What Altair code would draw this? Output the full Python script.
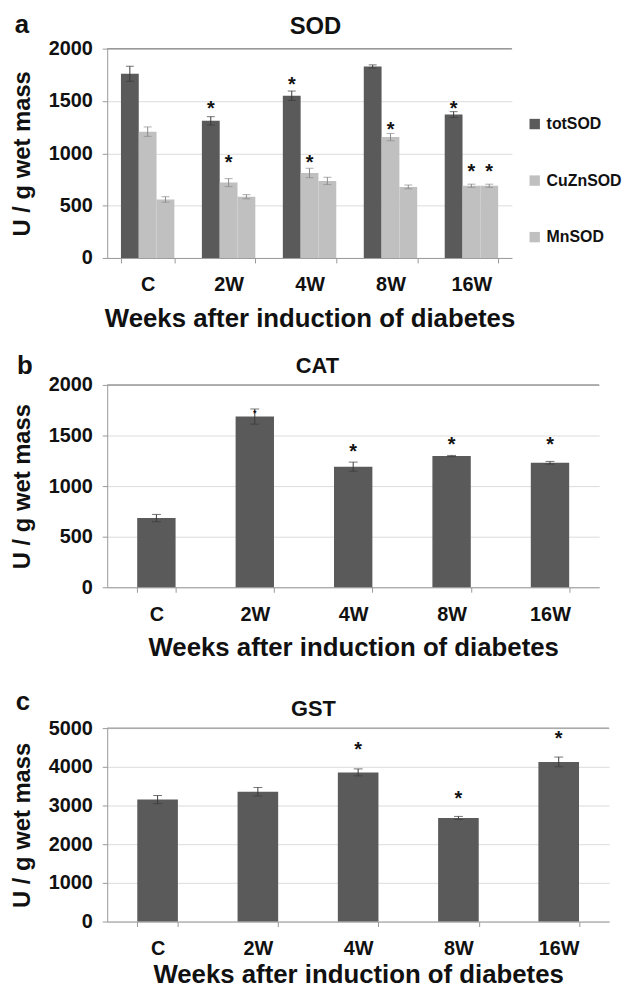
import altair as alt
import pandas as pd

FONT = "Liberation Sans"
DARK = "#5a5a5a"
LIGHT = "#c0c0c0"
XTITLE = "Weeks after induction of diabetes"
YTITLE = "U / g wet mass"

weeks = ["C", "2W", "4W", "8W", "16W"]

# Panel a: SOD
sod_series = ["totSOD", "CuZnSOD", "MnSOD"]
tot_sod = [1760, 1310, 1550, 1830, 1370]
tot_sod_err = [72, 40, 45, 15, 28]
cuzn_sod = [1207, 720, 812, 1155, 690]
cuzn_sod_err = [45, 38, 45, 35, 15]
mn_sod = [559, 585, 736, 679, 690]
mn_sod_err = [26, 20, 35, 18, 15]
tot_sod_star = [None, 1475, 1695, None, 1470]
cuzn_sod_star = [None, 955, 955, 1265, 870]
mn_sod_star = [None, None, None, None, 870]

# Panel b: CAT
cat = [684, 1687, 1192, 1297, 1231]
cat_err = [36, 75, 45, 6, 13]
cat_star = [None, 1800, 1384, 1456, 1456]
cat_star_size = [0, 9, 20, 20, 20]

# Panel c: GST
gst = [3153, 3356, 3856, 2678, 4127]
gst_err = [105, 110, 90, 40, 125]
gst_star = [None, None, 4560, 3305, 4856]

# ---------- data frames ----------
rows, star_rows = [], []
for s, vals, errs, stars in [
    ("totSOD", tot_sod, tot_sod_err, tot_sod_star),
    ("CuZnSOD", cuzn_sod, cuzn_sod_err, cuzn_sod_star),
    ("MnSOD", mn_sod, mn_sod_err, mn_sod_star),
]:
    for w, v, e, st in zip(weeks, vals, errs, stars):
        rows.append({"week": w, "series": s, "value": v, "lo": v - e, "hi": v + e,
                     "ecol": "#3a3a3a" if s == "totSOD" else "#8a8a8a"})
        if st is not None:
            star_rows.append({"week": w, "series": s, "star": st})
sod_df = pd.DataFrame(rows)
sod_star_df = pd.DataFrame(star_rows)

cat_df = pd.DataFrame({"week": weeks, "value": cat,
                       "lo": [v - e for v, e in zip(cat, cat_err)],
                       "hi": [v + e for v, e in zip(cat, cat_err)]})
cat_star_df = pd.DataFrame([{"week": w, "star": s, "size": z}
                            for w, s, z in zip(weeks, cat_star, cat_star_size) if s is not None])
gst_df = pd.DataFrame({"week": weeks, "value": gst,
                       "lo": [v - e for v, e in zip(gst, gst_err)],
                       "hi": [v + e for v, e in zip(gst, gst_err)]})
gst_star_df = pd.DataFrame([{"week": w, "star": s} for w, s in zip(weeks, gst_star) if s is not None])


def x_enc(pi, po, tpad=11):
    return alt.X("week:N", sort=weeks, title=XTITLE,
                 scale=alt.Scale(paddingInner=pi, paddingOuter=po),
                 axis=alt.Axis(labelAngle=0, tickBand="extent", tickSize=5,
                               labelPadding=12, titlePadding=tpad,
                               labelFontSize=20, titleFontSize=26, grid=False))


def y_enc(field, dmax, step):
    return alt.Y(field, title=YTITLE,
                 scale=alt.Scale(domain=[0, dmax], nice=False),
                 axis=alt.Axis(values=list(range(0, dmax + 1, step)), tickSize=5, format="d",
                               labelOverlap=False, labelPadding=10, titlePadding=14,
                               labelFontSize=20, titleFontSize=24, grid=True))


def label(t, x, y, size, baseline="alphabetic", opacity=1):
    return alt.Chart(pd.DataFrame({"t": [t]})).mark_text(
        font=FONT, fontSize=size, fontWeight="bold", align="center", baseline=baseline,
        color="#111", opacity=opacity).encode(text="t:N", x=alt.value(x), y=alt.value(y))


def top_rule(v, step):
    return alt.Chart(pd.DataFrame({"v": [v]})).mark_rule(color="#999", strokeWidth=1.5).encode(
        y=y_enc("v:Q", v, step))


# ---------- panel a ----------
xa = x_enc(0.34, 0.17)
xoff = alt.XOffset("series:N", sort=sod_series, scale=alt.Scale(paddingInner=0, paddingOuter=0))

bars_a = alt.Chart(sod_df).mark_bar().encode(
    x=xa, xOffset=xoff, y=y_enc("value:Q", 2000, 500),
    color=alt.Color("series:N", sort=sod_series,
                    scale=alt.Scale(domain=sod_series, range=[DARK, LIGHT, LIGHT]),
                    legend=alt.Legend(title=None, orient="none", legendX=423, legendY=68,
                                      symbolType="square", symbolSize=110, symbolStrokeWidth=0,
                                      labelFontSize=16, labelFont=FONT, labelFontWeight="bold",
                                      labelColor="#111", rowPadding=41, labelOffset=4,
                                      padding=0)))
err_a = alt.Chart(sod_df).mark_rule(strokeWidth=1).encode(
    x=xa, xOffset=xoff, y=y_enc("lo:Q", 2000, 500), y2="hi:Q",
    stroke=alt.Stroke("ecol:N", scale=None))
caplo_a = alt.Chart(sod_df).mark_tick(orient="horizontal", size=8, thickness=1).encode(
    x=xa, xOffset=xoff, y=y_enc("lo:Q", 2000, 500), color=alt.Color("ecol:N", scale=None))
caphi_a = alt.Chart(sod_df).mark_tick(orient="horizontal", size=8, thickness=1).encode(
    x=xa, xOffset=xoff, y=y_enc("hi:Q", 2000, 500), color=alt.Color("ecol:N", scale=None))
star_a = alt.Chart(sod_star_df).mark_text(text="*", font=FONT, fontSize=20, fontWeight="bold",
                                          baseline="alphabetic", dy=11, color="#111").encode(
    x=xa, xOffset=xoff, y=y_enc("star:Q", 2000, 500))

panel_a = alt.layer(
    top_rule(2000, 500), bars_a, err_a, caplo_a, caphi_a, star_a,
    label("a", -86, -24, 26, "middle"), label("SOD", 210, -22, 24, "middle")
).resolve_scale(color="independent").properties(width=408, height=211)


def simple_panel(df, star_df, dmax, step, pi, po, name, tx, letter_t, lx, ly, w, h,
                 sized=False, extra_top=None, tpad=11):
    x = x_enc(pi, po, tpad)
    bars = alt.Chart(df).mark_bar(color=DARK).encode(x=x, y=y_enc("value:Q", dmax, step))
    err = alt.Chart(df).mark_rule(strokeWidth=1, color="#3a3a3a").encode(
        x=x, y=y_enc("lo:Q", dmax, step), y2="hi:Q")
    clo = alt.Chart(df).mark_tick(orient="horizontal", size=9, thickness=1, color="#3a3a3a").encode(
        x=x, y=y_enc("lo:Q", dmax, step))
    chi = alt.Chart(df).mark_tick(orient="horizontal", size=9, thickness=1, color="#3a3a3a").encode(
        x=x, y=y_enc("hi:Q", dmax, step))
    st = alt.Chart(star_df).mark_text(text="*", font=FONT, fontSize=20, fontWeight="bold",
                                      baseline="alphabetic", dy=11, color="#111")
    if sized:
        st = st.encode(x=x, y=y_enc("star:Q", dmax, step),
                       size=alt.Size("size:Q", scale=None, legend=None))
    else:
        st = st.encode(x=x, y=y_enc("star:Q", dmax, step))
    layers = [top_rule(dmax, step), bars, err, clo, chi, st,
              label(letter_t, lx, ly, 26), label(name, tx, -19, 22, "middle")]
    if extra_top is not None:
        layers.append(label(letter_t, lx, extra_top, 26, opacity=0))
    return alt.layer(*layers).properties(width=w, height=h)


panel_b = simple_panel(cat_df, cat_star_df, 2000, 500, 0.61, 0.305, "CAT", 212, "b", -83, -11,
                       496, 204, sized=True)
panel_c = simple_panel(gst_df, gst_star_df, 5000, 1000, 0.595, 0.3, "GST", 208, "c", -85, -18,
                       506, 195, extra_top=-25, tpad=3)

chart = alt.vconcat(panel_a, panel_b, panel_c, spacing=22).resolve_scale(
    x="independent", y="independent", color="independent"
).properties(padding={"left": 2, "top": 0, "right": 0, "bottom": -3}).configure_view(
    stroke=None
).configure_axis(
    labelFont=FONT, titleFont=FONT, labelFontWeight="bold", titleFontWeight="bold",
    labelColor="#111", titleColor="#111", domainColor="#999", tickColor="#999",
    gridColor="#dcdcdc", gridWidth=1
).configure_text(font=FONT)

chart.save("out.html", embed_options={"renderer": "svg", "actions": False})
